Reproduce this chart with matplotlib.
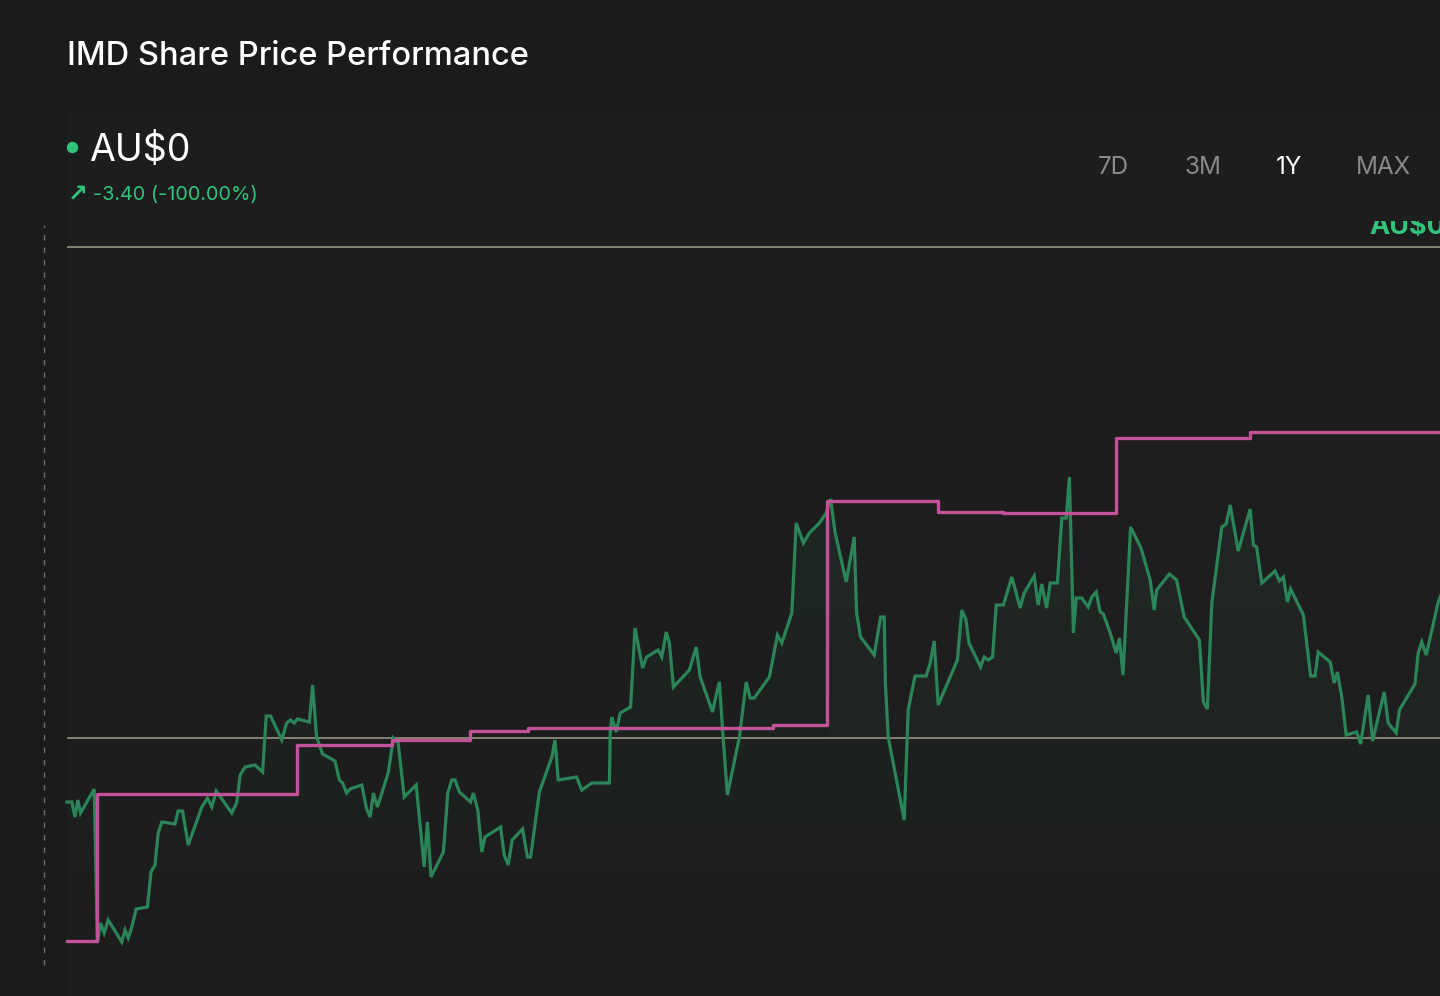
import numpy as np
import matplotlib
matplotlib.use("Agg")
import matplotlib.pyplot as plt
from matplotlib.patches import Rectangle, Polygon
from matplotlib.transforms import Bbox

plt.rcParams["font.family"] = ["Inter", "DejaVu Sans"]

# share price (AU$) by trading day
DAYS = [
    0.0, 1.2, 2.0, 2.7, 3.4, 6.8, 7.6, 8.4, 9.3, 10.3, 13.7, 14.5, 15.3, 16.2, 17.3,
    20.1, 21.0, 22.0, 22.8, 23.7, 27.0, 27.8, 28.9, 30.3, 33.7, 35.1, 36.2, 37.3,
    41.2, 42.4, 43.3, 44.5, 47.0, 48.9, 49.8, 50.9, 53.7, 54.9, 55.9, 56.8, 57.6,
    60.6, 61.4, 62.4, 63.9, 67.0, 68.1, 68.9, 69.9, 70.8, 73.7, 74.9, 75.8, 76.6,
    77.6, 80.3, 81.6, 82.8, 84.3, 87.3, 89.3, 90.1, 91.0, 94.1, 95.2, 96.2, 97.0,
    98.1, 100.9, 101.6, 102.7, 103.7, 104.5, 108.4, 109.3, 110.3, 111.3, 113.9,
    115.1, 115.9, 118.1, 121.2, 122.0, 122.8, 127.4, 128.7, 131.2, 135.6, 135.8,
    136.2, 137.3, 138.3, 140.9, 142.0, 143.9, 144.9, 147.8, 148.7, 149.8, 150.6,
    151.6, 155.6, 157.3, 158.3, 161.4, 162.4, 163.1, 163.9, 165.1, 168.1, 169.8,
    170.8, 171.8, 175.6, 177.6, 178.7, 181.2, 182.3, 184.1, 185.6, 188.1, 189.8,
    190.9, 192.0, 194.8, 196.8, 197.4, 198.4, 201.8, 203.4, 204.3, 204.6, 205.3,
    209.3, 210.3, 212.0, 214.8, 215.8, 216.8, 217.8, 222.6, 223.7, 224.7, 225.5,
    228.4, 229.3, 230.3, 231.4, 232.3, 234.1, 236.2, 238.3, 239.3, 241.8, 242.8,
    243.7, 244.9, 245.8, 247.6, 248.7, 249.8, 250.6, 251.6, 252.3, 253.7, 255.3,
    256.2, 257.3, 258.3, 259.1, 260.8, 262.3, 263.1, 264.0, 265.9, 268.5, 270.8,
    271.8, 272.4, 275.6, 277.4, 279.3, 283.1, 284.1, 285.1, 286.2, 288.7, 289.8,
    290.8, 292.8, 295.8, 296.6, 297.4, 298.7, 302.0, 303.1, 304.1, 305.1, 305.9,
    309.1, 310.9, 312.0, 312.8, 315.8, 316.8, 317.6, 318.7, 319.8, 322.4, 323.4,
    325.3, 326.4, 329.3, 330.3, 332.3, 333.1, 337.0, 337.8, 338.7, 339.8, 342.8,
    343.5,
]
PRICE = [
    1.98, 1.98, 1.83, 2.00, 1.87, 2.11, 0.57, 0.77, 0.67, 0.80, 0.58, 0.70, 0.62, 0.73, 0.91,
    0.93, 1.28, 1.35, 1.67, 1.78, 1.76, 1.89, 1.89, 1.55, 1.93, 2.02, 1.93, 2.09,
    1.87, 1.97, 2.25, 2.33, 2.35, 2.28, 2.84, 2.84, 2.60, 2.77, 2.80, 2.77, 2.81,
    2.78, 3.15, 2.63, 2.46, 2.39, 2.20, 2.17, 2.07, 2.11, 2.15, 1.91, 1.83, 2.07,
    1.93, 2.27, 2.62, 2.57, 2.03, 2.15, 1.33, 1.78, 1.23, 1.48, 2.07, 2.20, 2.20,
    2.08, 1.98, 2.07, 1.90, 1.48, 1.63, 1.73, 1.45, 1.35, 1.60, 1.71,
    1.43, 1.43, 2.08, 2.43, 2.60, 2.20, 2.23, 2.10, 2.17, 2.17, 2.67,
    2.83, 2.68, 2.87, 2.93, 3.72, 3.32, 3.43, 3.50, 3.43, 3.68, 3.57,
    3.13, 3.30, 3.53, 3.23, 2.88, 3.07, 3.18, 2.70, 2.05, 2.63, 3.18,
    3.02, 3.02, 3.23, 3.65, 3.57, 3.87, 4.77, 4.57, 4.67, 4.77, 4.87,
    5.01, 4.68, 4.18, 4.63, 3.87, 3.63, 3.45, 3.83, 3.83, 3.17, 2.63,
    1.80, 2.90, 3.24, 3.24, 3.37, 3.59, 2.95, 3.40, 3.90, 3.81, 3.57,
    3.33, 3.43, 3.40, 3.43, 3.95, 3.95, 4.23, 3.92, 4.07, 4.24, 3.95,
    4.16, 3.92, 4.17, 4.17, 4.82, 4.82, 5.23, 3.67, 4.02, 4.02, 3.93,
    4.03, 4.08, 3.88, 3.86, 3.67, 3.47, 3.62, 3.25, 4.73, 4.52, 4.20,
    3.90, 4.10, 4.26, 4.20, 3.83, 3.60, 2.98, 2.91, 3.97, 4.73, 4.76,
    4.95, 4.49, 4.91, 4.55, 4.53, 4.17, 4.29, 4.19, 4.23, 3.98, 4.11,
    3.85, 3.24, 3.24, 3.48, 3.38, 3.17, 3.28, 3.03, 2.65, 2.68, 2.56,
    3.05, 2.59, 3.08, 2.77, 2.67, 2.90, 3.16, 3.47, 3.58, 3.45, 3.98,
    4.05,
]

# comparison (pink) step series: value holds from each start day onward
STEP_DAYS = [0.0, 7.5, 57.5, 81.3, 100.8, 115.3, 176.5, 190.0, 217.8, 234.0, 262.3, 295.8, 345.0]
STEP_VALS = [0.59, 2.06, 2.55, 2.60, 2.69, 2.72, 2.75, 4.99, 4.88, 4.87, 5.62, 5.68, 5.68]

GRID_LEVELS = [7.53, 2.62]
PERIODS = ["7D", "3M", "1Y", "MAX"]
ACTIVE_PERIOD = "1Y"

BG = "#1b1b1b"
GREEN_LINE = "#2b8559"
GREEN_TEXT = "#33c47c"
PINK = "#c4529a"
GRID = "#8b8a7a"

W, H = 1440, 996
fig = plt.figure(figsize=(W / 100, H / 100), dpi=100, facecolor=BG)
ax = fig.add_axes([0, 0, 1, 1], facecolor=BG)
ax.set_xlim(-16.75, 343.25)
ax.set_ylim(0.04, 10.0)
ax.axis("off")


def fx(px):
    return px / W


def fy(py):
    return 1 - py / H


# faint panel behind the chart
ax.add_patch(Rectangle((0.0, 0.04), 360, 8.84, facecolor="#1c1d1c", edgecolor="none", zorder=0))

# gridlines
for lvl in GRID_LEVELS:
    ax.plot([0.0, 345.0], [lvl, lvl], color=GRID, lw=1.3, zorder=2, solid_capstyle="butt")

# dashed marker line on the left
ax.plot([-5.75, -5.75], [0.35, 7.75], color="#6f6f6f", lw=1.0, ls=(0, (4, 5)), zorder=2)

days = np.array(DAYS)
price = np.array(PRICE)
base = 0.4

# green gradient fill under the price line
poly = Polygon(np.column_stack([np.r_[days[0], days, days[-1]], np.r_[base, price, base]]),
               closed=True, facecolor="none", edgecolor="none")
ax.add_patch(poly)
grad = np.zeros((256, 2, 4))
grad[..., 0], grad[..., 1], grad[..., 2] = 0.17, 0.52, 0.35
grad[..., 3] = np.linspace(0.0, 0.11, 256)[:, None]
im = ax.imshow(grad, extent=[days[0], days[-1], base, 5.3], origin="lower",
               aspect="auto", zorder=1, interpolation="bilinear")
im.set_clip_path(poly)

# faint pink tint under the step series
sx = np.array(STEP_DAYS)
sv = np.array(STEP_VALS)
ax.fill_between(sx, sv, 2.62, step="post", where=sv > 4.0, color=PINK, alpha=0.025,
                lw=0, zorder=1)

ax.plot(days, price, color=GREEN_LINE, lw=2.3, zorder=4, solid_joinstyle="miter")
ax.step(sx, sv, where="post", color=PINK, lw=2.4, zorder=5)

# value label at the top right, cut off by the panel above it
lbl = fig.text(fx(1369), fy(234), "AU$0", color=GREEN_TEXT, fontsize=19.5, fontweight="bold",
               ha="left", va="baseline", zorder=6)
lbl.set_clip_box(Bbox.from_extents(1355, H - 241, W, H - 221))
lbl.set_clip_on(True)

# header
fig.text(fx(67), fy(65), "IMD Share Price Performance", color="white", fontsize=23.5,
         fontweight="medium", ha="left", va="baseline")
fig.text(fx(89), fy(161), "AU$0", color="white", fontsize=27, ha="left", va="baseline")
ax.plot([fx(72)], [fy(147)], marker="o", ms=7.2, color=GREEN_TEXT, zorder=6,
        clip_on=False, transform=fig.transFigure)
fig.text(fx(68), fy(201), "\u2197", color=GREEN_TEXT, fontsize=17, fontweight="bold",
         family="DejaVu Sans", ha="left", va="baseline")
fig.text(fx(93), fy(200), "-3.40 (-100.00%)", color=GREEN_TEXT, fontsize=14.3,
         ha="left", va="baseline")

PERIOD_X = [1113, 1203, 1289, 1384]
for label, px in zip(PERIODS, PERIOD_X):
    col = "white" if label == ACTIVE_PERIOD else "#8a8a8a"
    fig.text(fx(px), fy(174), label, color=col, fontsize=17.5, ha="center", va="baseline")

fig.savefig("out.png", dpi=100, facecolor=BG)
